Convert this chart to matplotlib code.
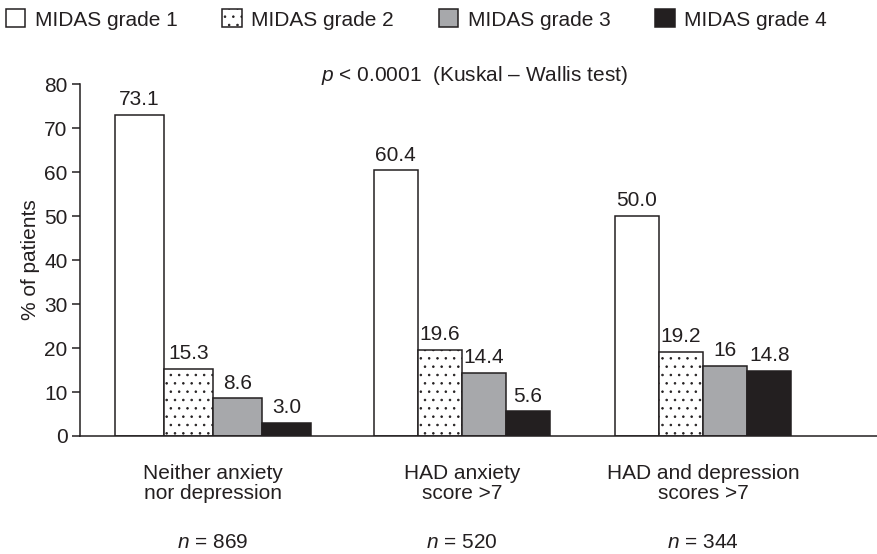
import matplotlib
matplotlib.use("Agg")
import matplotlib.pyplot as plt
import numpy as np

plt.rcParams['font.family'] = ['Liberation Sans', 'DejaVu Sans']
plt.rcParams['mathtext.fontset'] = 'custom'
plt.rcParams['mathtext.it'] = 'Liberation Sans:italic'
plt.rcParams['mathtext.rm'] = 'Liberation Sans'
plt.rcParams['hatch.linewidth'] = 0.6

# data
groups = ['Neither anxiety\nnor depression', 'HAD anxiety\nscore >7', 'HAD and depression\nscores >7']
n_labels = ['869', '520', '344']
grades = ['MIDAS grade 1', 'MIDAS grade 2', 'MIDAS grade 3', 'MIDAS grade 4']
grade1 = [73.1, 60.4, 50.0]
grade2 = [15.3, 19.6, 19.2]
grade3 = [8.6, 14.4, 16]
grade4 = [3.0, 5.6, 14.8]
value_text = [['73.1', '15.3', '8.6', '3.0'],
              ['60.4', '19.6', '14.4', '5.6'],
              ['50.0', '19.2', '16', '14.8']]

ink = '#231f20'
face = ['white', 'white', '#a7a8ab', ink]
hatch = [None, '..', None, None]
widths = [0.2, 0.18, 0.18]
fs = 15

fig = plt.figure(figsize=(8.77, 5.54), dpi=100)
ax = fig.add_axes([0.0912, 0.213, 0.9088, 0.635])

# group centres (the original spacing is a little uneven)
x = np.array([0, 1.016, 2])
series = [grade1, grade2, grade3, grade4]
for gi in range(len(groups)):
    w = widths[gi]
    for k, s in enumerate(series):
        xpos = x[gi] + (k - 1.5) * w
        ax.bar(xpos, s[gi], width=w, color=face[k], edgecolor=ink, linewidth=1.1,
               hatch=hatch[k], label=grades[k] if gi == 0 else None)
        ax.text(xpos, s[gi] + 2.2, value_text[gi][k], ha='center', va='baseline',
                fontsize=fs, color=ink)

ax.set_xlim(-0.543, 2.71)
ax.set_ylim(0, 80)
ax.set_yticks(np.arange(0, 81, 10))
ax.set_xticks([])
ax.tick_params(axis='y', labelsize=fs, colors=ink, length=6, width=1.1, pad=3)
for side in ['top', 'right']:
    ax.spines[side].set_visible(False)
for side in ['left', 'bottom']:
    ax.spines[side].set_color(ink)
    ax.spines[side].set_linewidth(1.1)
ax.set_ylabel('% of patients', fontsize=fs, color=ink, labelpad=3)

for gi in range(len(groups)):
    ax.text(x[gi], -6.3, groups[gi], ha='center', va='top', fontsize=fs,
            color=ink, linespacing=1.1)
    ax.text(x[gi], -22.0, '$n$ = ' + n_labels[gi], ha='center', va='top',
            fontsize=fs, color=ink)

ax.text(0.495, 1.026, '$p$ < 0.0001  (Kuskal – Wallis test)', transform=ax.transAxes,
        ha='center', va='center', fontsize=fs, color=ink)

leg = fig.legend(loc='upper left', bbox_to_anchor=(-0.003, 0.998), ncol=4, frameon=False,
                 fontsize=fs, handlelength=0.95, handleheight=0.95, handletextpad=0.45,
                 columnspacing=2.14, borderaxespad=0.2, borderpad=0.2)
for t in leg.get_texts():
    t.set_color(ink)

fig.savefig('out.png', dpi=100)
